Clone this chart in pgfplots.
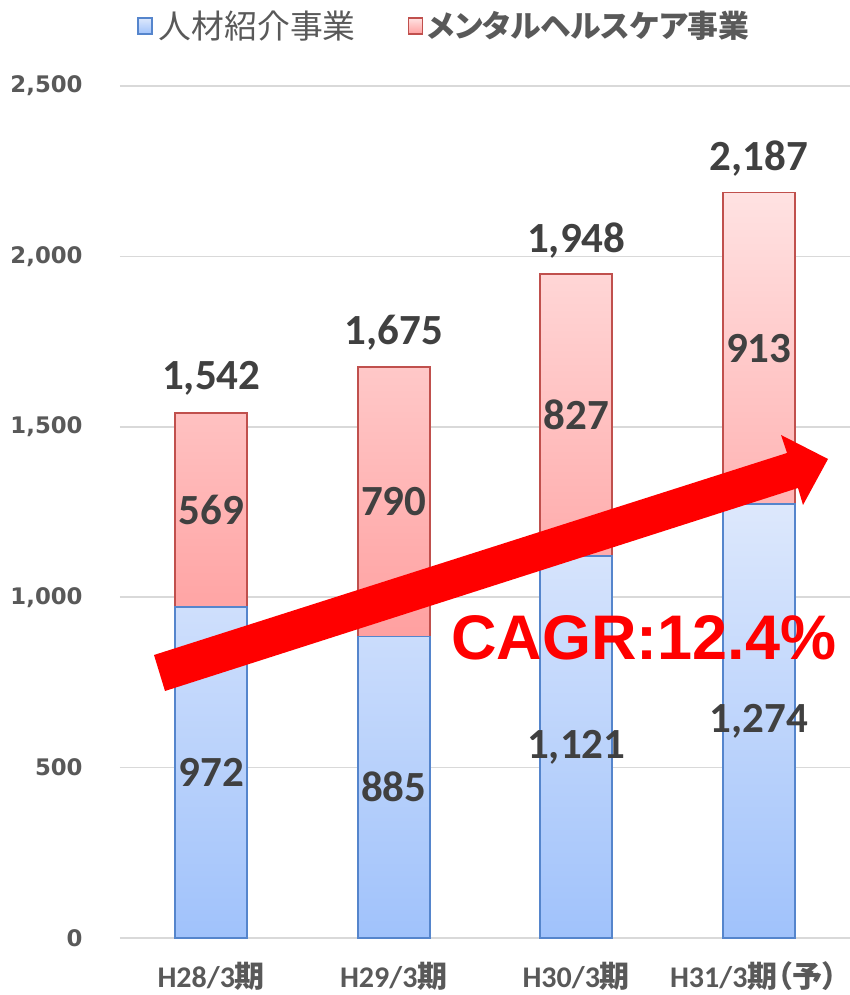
\documentclass[border=0pt]{standalone}
\usepackage{pgfplots}
\pgfplotsset{compat=1.18}
\usepackage{fontspec}
\setmainfont{Carlito}
\newfontfamily\cjk[RawFeature=+palt]{Noto Sans CJK JP}
\newfontfamily\dvs{DejaVu Sans}
\newfontfamily\lib{Liberation Sans}
\definecolor{tickgray}{HTML}{595959}
\definecolor{lblgray}{HTML}{404040}
\definecolor{gridgray}{HTML}{D9D9D9}
\definecolor{bluetop}{HTML}{DDE8FC}
\definecolor{bluebot}{HTML}{A0C2FB}
\definecolor{blueline}{HTML}{5585CC}
\definecolor{redtop}{HTML}{FFE2E2}
\definecolor{redbot}{HTML}{FFA0A0}
\definecolor{redline}{HTML}{C0504D}
\begin{document}
\begin{tikzpicture}
\path[use as bounding box] (-60pt,-28.5pt) rectangle (365pt,469pt);
\begin{axis}[
  width=365pt, height=426pt, scale only axis,
  xmin=-0.5, xmax=3.5, ymin=0, ymax=2500,
  ybar stacked, bar width=36pt,
  xtick={0,1,2,3},
  xticklabels={H28/3{\cjk 期}, H29/3{\cjk 期}, H30/3{\cjk 期}, H31/3{\cjk 期（予）}\kern5pt},
  ytick={0,500,1000,1500,2000,2500},
  scaled y ticks=false,
  /pgf/number format/assume math mode=true,
  /pgf/number format/1000 sep={,},
  yticklabel style={font=\dvs\bfseries\fontsize{11.4}{13}\selectfont, text=tickgray, anchor=east, inner sep=0pt, xshift=-18.5pt},
  xticklabel style={font=\bfseries\fontsize{15}{17}\selectfont, text=tickgray, anchor=base, inner sep=0pt, yshift=-24.5pt},
  major tick length=0pt,
  axis line style={draw=none},
  ymajorgrids, grid style={gridgray, line width=0.8pt},
  legend columns=2,
  legend style={at={(0.0233,1.0935)}, anchor=north west, draw=none, fill=none, inner sep=0pt,
    /tikz/every even column/.append style={column sep=24pt},
    nodes={inner sep=2pt, text=tickgray, font=\cjk\fontsize{16.4}{18}\selectfont}},
  legend image code/.code={\draw[#1, line width=0.7pt] (0pt,-4pt) rectangle (7pt,4pt);},
]
\addplot[draw=blueline, line width=0.8pt, top color=bluetop, bottom color=bluebot]
  coordinates {(0,972) (1,885) (2,1121) (3,1274)};
\addlegendentry{\hspace{1pt}人材紹介事業}
\addplot[draw=redline, line width=0.8pt, top color=redtop, bottom color=redbot]
  coordinates {(0,569) (1,790) (2,827) (3,913)};
\addlegendentry{\bfseries\fontsize{15.4}{18}\selectfont メンタルヘルスケア事業}
\end{axis}
\fill[red] (17pt,141.5pt) -- (22.5pt,123.5pt) -- (339pt,225pt) -- (341.5pt,216.5pt) -- (354pt,239.5pt) -- (330.5pt,251.5pt) -- (333.5pt,242.5pt) -- cycle;
\node[anchor=base, inner sep=0pt, text=red, font=\lib\bfseries\fontsize{31.5}{34}\selectfont] at (262pt,139pt) {CAGR:12.4\%};
\begin{axis}[
  width=365pt, height=426pt, scale only axis,
  xmin=-0.5, xmax=3.5, ymin=0, ymax=2500,
  hide axis,
  nodes near coords, point meta=explicit symbolic,
  every node near coord/.style={anchor=center, text=lblgray, font=\bfseries\fontsize{21.5}{24}\selectfont},
]
\addplot[draw=none, mark=none] coordinates {(0,486) [972] (1,442.5) [885] (2,560.5) [1,121] (3,637) [1,274]};
\addplot[draw=none, mark=none] coordinates {(0,1256.5) [569] (1,1280) [790] (2,1534.5) [827] (3,1730.5) [913]};
\addplot[draw=none, mark=none, every node near coord/.append style={yshift=17pt}] coordinates {(0,1542) [1,542] (1,1675) [1,675] (2,1948) [1,948] (3,2187) [2,187]};
\end{axis}
\end{tikzpicture}
\end{document}
